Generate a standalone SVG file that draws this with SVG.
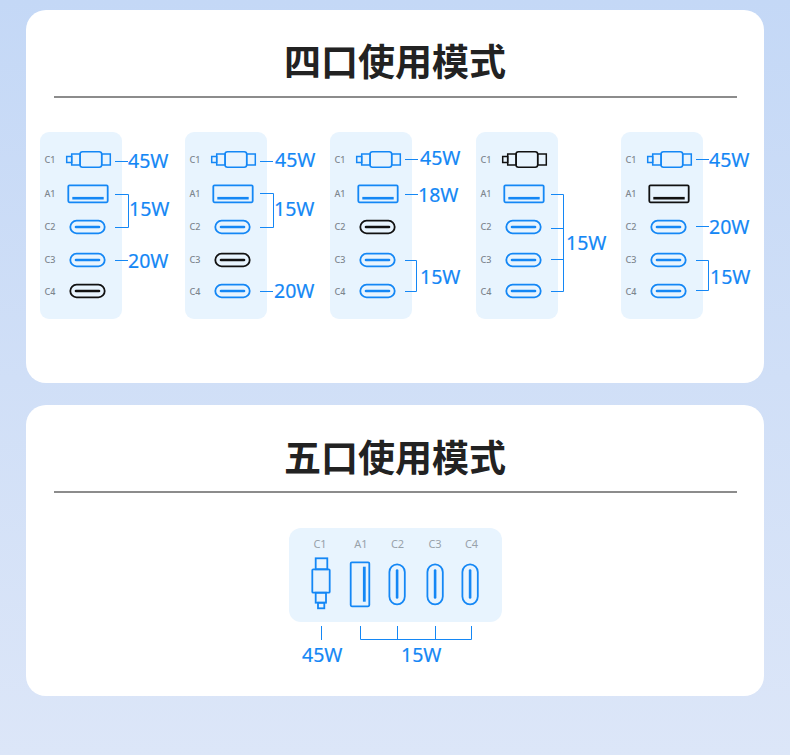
<svg xmlns="http://www.w3.org/2000/svg" width="790" height="755" viewBox="0 0 790 755">
<style>
.card{fill:#fff}
.panel{fill:#e8f4fe}
.rule{fill:#8c8c8c}
.title{font:700 37px "Noto Sans CJK SC","Noto Sans CJK JP",sans-serif;fill:#222;text-anchor:middle}
.pl{font:500 9px "Noto Sans","Open Sans",sans-serif;fill:#7d868e;text-anchor:middle}
.pl2{font:11px "Noto Sans","Open Sans",sans-serif;fill:#98a2aa;text-anchor:middle}
.w{font:400 19.500px "Noto Sans","Open Sans",sans-serif;fill:#1487f5;stroke:#1487f5;stroke-width:.2}
.c{fill:none;stroke:#1487f5;stroke-width:1}
.b{color:#1487f5}
.k{color:#111}
.o{fill:none;stroke:currentColor;stroke-width:1.800}
.t{fill:none;stroke:currentColor;stroke-width:1.500}
.f{fill:none;stroke:currentColor;stroke-width:2.600;stroke-linecap:round}
</style>
<defs>
<linearGradient id="bg" x1="0" y1="0" x2="0" y2="1"><stop offset="0" stop-color="#c4d8f6"/><stop offset="1" stop-color="#dce6f8"/></linearGradient>
<g id="cable">
<rect class="t" x="0.700" y="-3" width="5" height="6"/>
<rect class="t" x="5.700" y="-5.500" width="8.500" height="11"/>
<rect class="t" x="14" y="-7.800" width="21.700" height="15.600" rx="2.500"/>
<rect class="t" x="35.700" y="-5.500" width="8.600" height="11"/>
</g>
<g id="usba">
<rect class="o" x="0" y="-8.500" width="39.400" height="17" rx="1.200"/>
<path d="M4 4.400H35.400" fill="none" stroke="currentColor" stroke-width="2.600"/>
</g>
<g id="typec">
<rect class="o" x="-17.200" y="-6.300" width="34.400" height="12.600" rx="6.300"/>
<path class="f" d="M-11.500 0H11.500"/>
</g>
</defs>
<rect width="790" height="755" fill="url(#bg)"/>
<g id="card-four">
<rect class="card" x="26" y="10" width="738" height="373" rx="20"/>
<text class="title" x="395" y="76">四口使用模式</text>
<rect class="rule" x="54" y="96" width="683" height="2"/>
</g>
<g id="card-five">
<rect class="card" x="26" y="405" width="738" height="291" rx="20"/>
<text class="title" x="395" y="472">五口使用模式</text>
<rect class="rule" x="54" y="491" width="683" height="2"/>
</g>

<g id="mode-1">
<rect class="panel" x="40" y="132" width="82" height="187" rx="9"/>
<text class="pl" x="50" y="163">C1</text><text class="pl" x="50" y="197">A1</text><text class="pl" x="50" y="230">C2</text><text class="pl" x="50" y="263">C3</text><text class="pl" x="50" y="295">C4</text>
<use href="#cable" class="b" x="66" y="159.500"/><use href="#usba" class="b" x="68.300" y="193.800"/><use href="#typec" class="b" x="87.500" y="227"/><use href="#typec" class="b" x="87.500" y="260"/><use href="#typec" class="k" x="87.500" y="291"/>
</g>
<g id="mode-2">
<rect class="panel" x="185" y="132" width="82" height="187" rx="9"/>
<text class="pl" x="195" y="163">C1</text><text class="pl" x="195" y="197">A1</text><text class="pl" x="195" y="230">C2</text><text class="pl" x="195" y="263">C3</text><text class="pl" x="195" y="295">C4</text>
<use href="#cable" class="b" x="211" y="159.500"/><use href="#usba" class="b" x="213.300" y="193.800"/><use href="#typec" class="b" x="232.500" y="227"/><use href="#typec" class="k" x="232.500" y="260"/><use href="#typec" class="b" x="232.500" y="291"/>
</g>
<g id="mode-3">
<rect class="panel" x="330" y="132" width="82" height="187" rx="9"/>
<text class="pl" x="340" y="163">C1</text><text class="pl" x="340" y="197">A1</text><text class="pl" x="340" y="230">C2</text><text class="pl" x="340" y="263">C3</text><text class="pl" x="340" y="295">C4</text>
<use href="#cable" class="b" x="356" y="159.500"/><use href="#usba" class="b" x="358.300" y="193.800"/><use href="#typec" class="k" x="377.500" y="227"/><use href="#typec" class="b" x="377.500" y="260"/><use href="#typec" class="b" x="377.500" y="291"/>
</g>
<g id="mode-4">
<rect class="panel" x="476" y="132" width="82" height="187" rx="9"/>
<text class="pl" x="486" y="163">C1</text><text class="pl" x="486" y="197">A1</text><text class="pl" x="486" y="230">C2</text><text class="pl" x="486" y="263">C3</text><text class="pl" x="486" y="295">C4</text>
<use href="#cable" class="k" x="502" y="159.500"/><use href="#usba" class="b" x="504.300" y="193.800"/><use href="#typec" class="b" x="523.500" y="227"/><use href="#typec" class="b" x="523.500" y="260"/><use href="#typec" class="b" x="523.500" y="291"/>
</g>
<g id="mode-5">
<rect class="panel" x="621" y="132" width="82" height="187" rx="9"/>
<text class="pl" x="631" y="163">C1</text><text class="pl" x="631" y="197">A1</text><text class="pl" x="631" y="230">C2</text><text class="pl" x="631" y="263">C3</text><text class="pl" x="631" y="295">C4</text>
<use href="#cable" class="b" x="647" y="159.500"/><use href="#usba" class="k" x="649.300" y="193.800"/><use href="#typec" class="b" x="668.500" y="227"/><use href="#typec" class="b" x="668.500" y="260"/><use href="#typec" class="b" x="668.500" y="291"/>
</g>

<g id="mode-five">
<rect class="panel" x="289" y="528" width="213" height="94" rx="12"/>
<text class="pl2" x="320" y="548">C1</text><text class="pl2" x="361" y="548">A1</text><text class="pl2" x="397.500" y="548">C2</text><text class="pl2" x="435" y="548">C3</text><text class="pl2" x="471.500" y="548">C4</text>
<g class="b">
<rect class="o" x="315.700" y="558.300" width="11.600" height="11"/>
<rect class="o" x="312.300" y="569.300" width="17.400" height="23.400" rx="1"/>
<rect class="o" x="315.700" y="592.700" width="10.300" height="10"/>
<rect class="o" x="318" y="602.700" width="6.300" height="5.600"/>
<rect class="o" x="350.700" y="562.300" width="18.600" height="44" rx="1.200"/>
<path d="M364.300 566.700V601.700" fill="none" stroke="currentColor" stroke-width="2.800"/>
<rect class="o" x="389.400" y="564.300" width="15.400" height="40" rx="7.700"/>
<path class="f" d="M397.100 570.500V597.500"/>
<rect class="o" x="427.400" y="564.300" width="15.400" height="40" rx="7.700"/>
<path class="f" d="M435.100 570.500V597.500"/>
<rect class="o" x="462.400" y="564.300" width="15.400" height="40" rx="7.700"/>
<path class="f" d="M470.100 570.500V597.500"/>
</g>
</g>

<g id="connectors">
<path class="c" d="M115 161.500H128M115 194.500H128.500V227.500H115M115 260.500H128"/>
<path class="c" d="M260 161.500H273M260 193.500H273.500V227.500H260M260 291.500H273"/>
<path class="c" d="M405 159.500H418M405 194.500H418M405 260.500H416.500V291.500H405"/>
<path class="c" d="M551 194.500H563.500V291.500H551M551 228.500H563.500M551 259.500H563.500"/>
<path class="c" d="M696 159.500H709M696 226.500H709M696 260.500H708.500V290.500H696"/>
<path class="c" d="M321.500 626V640M360.500 626V639.500H471.500V626M397.500 626V639.500M435.500 626V639.500"/>
</g>

<g id="labels">
<text class="w" x="128" y="168">45W</text><text class="w" x="129" y="216">15W</text><text class="w" x="128" y="268">20W</text>
<text class="w" x="275" y="167">45W</text><text class="w" x="274" y="216">15W</text><text class="w" x="274" y="298">20W</text>
<text class="w" x="420" y="165">45W</text><text class="w" x="418" y="202">18W</text><text class="w" x="420" y="284">15W</text>
<text class="w" x="566" y="250">15W</text>
<text class="w" x="709" y="167">45W</text><text class="w" x="709" y="234">20W</text><text class="w" x="710" y="284">15W</text>
<text class="w" x="302" y="662">45W</text><text class="w" x="401" y="662">15W</text>
</g>
</svg>
